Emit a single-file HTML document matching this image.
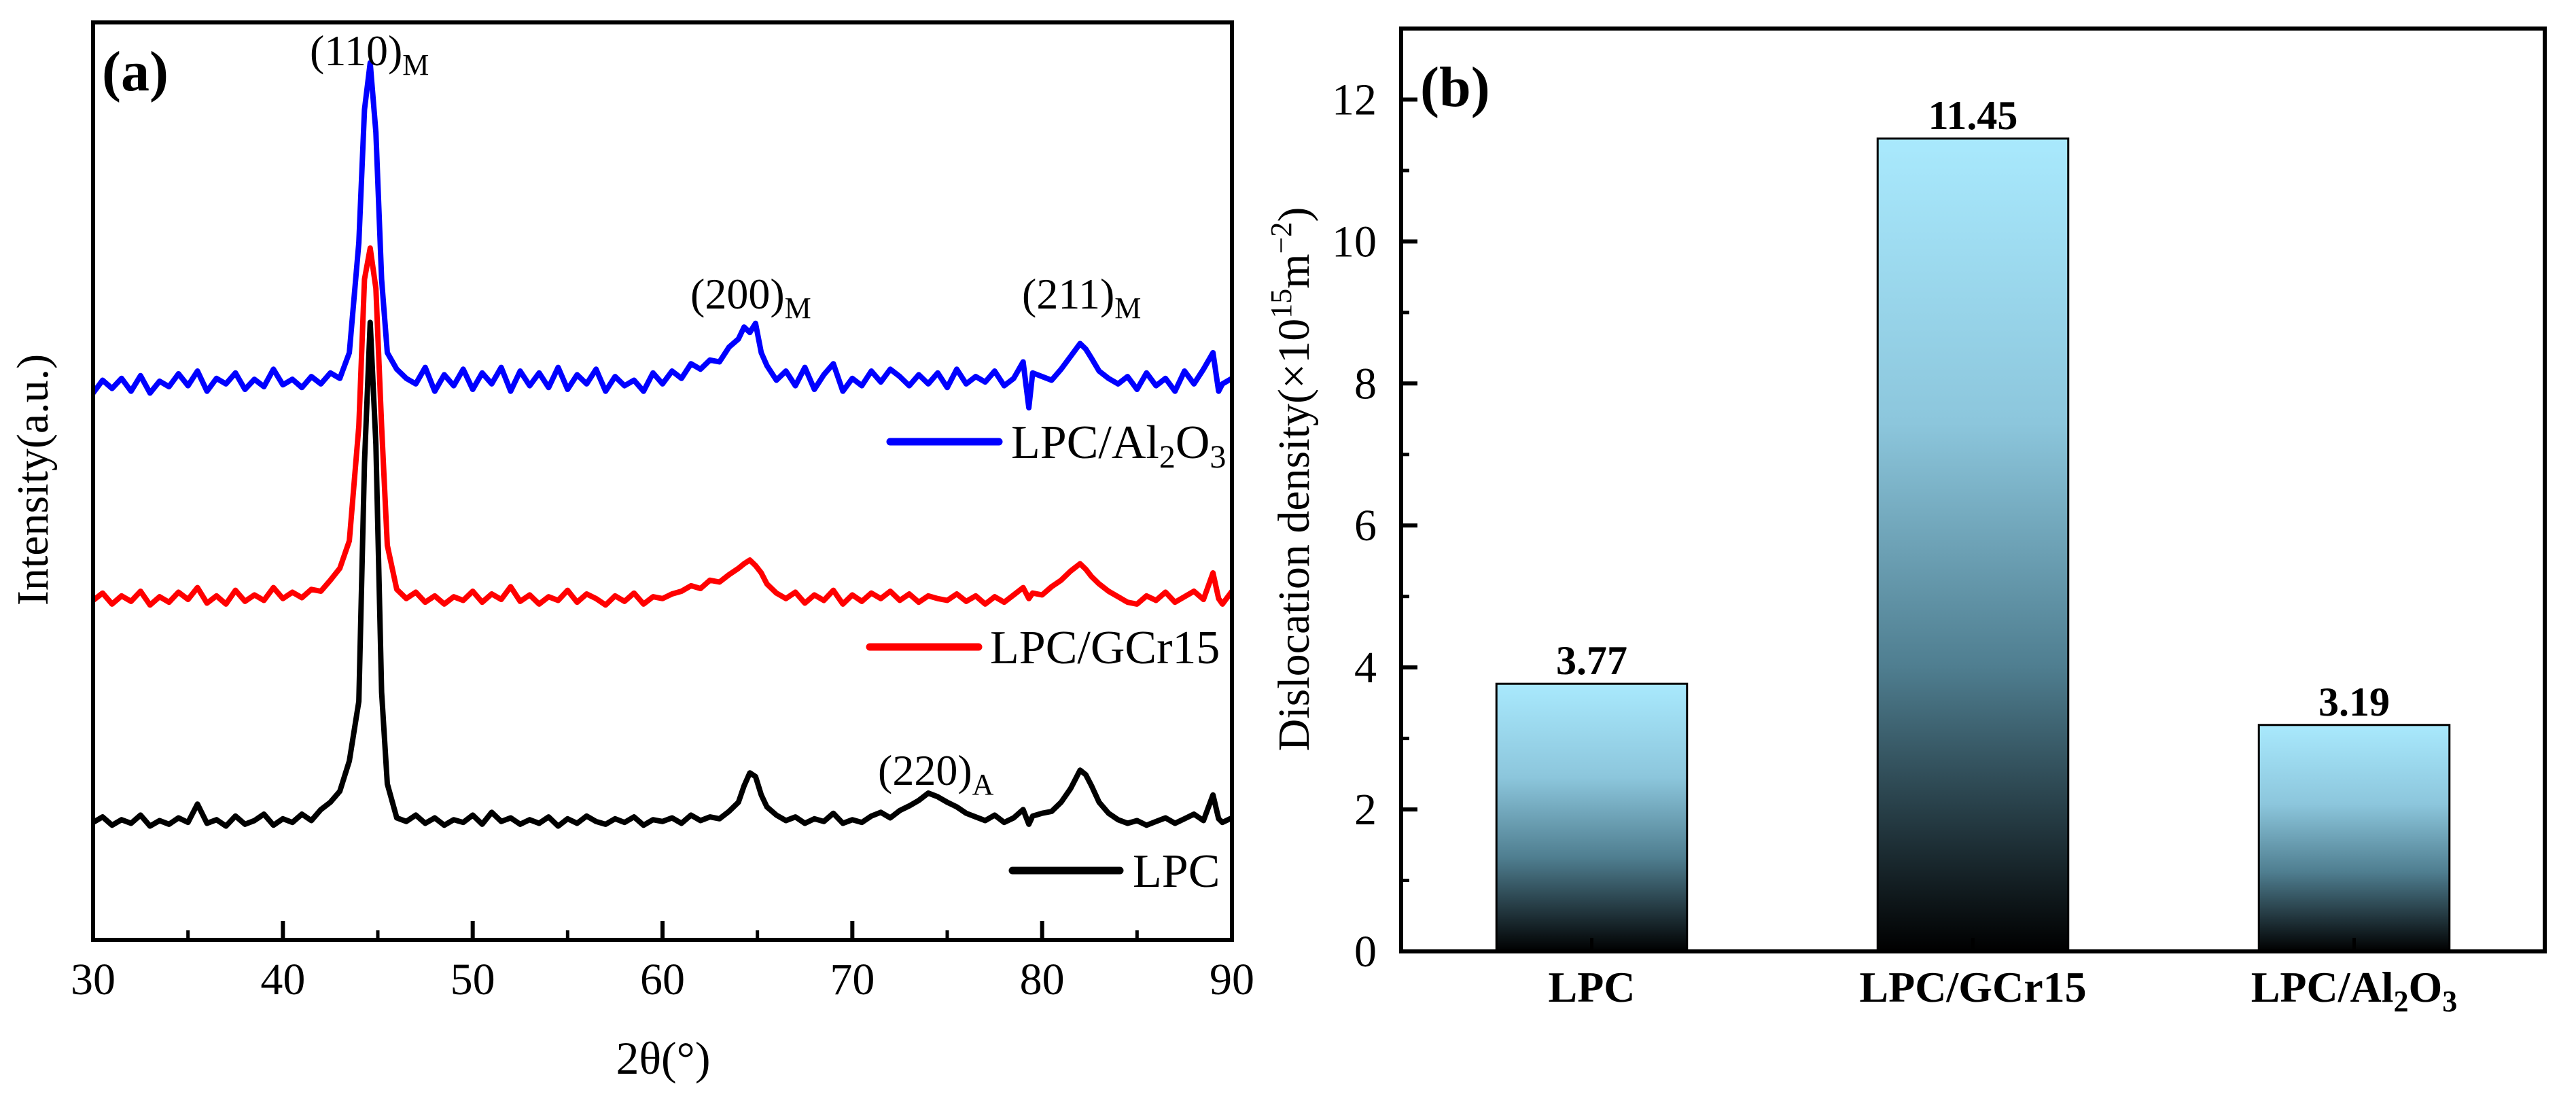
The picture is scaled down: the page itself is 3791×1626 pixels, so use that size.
<!DOCTYPE html>
<html><head><meta charset="utf-8"><style>
html,body{margin:0;padding:0;background:#fff;}
svg{display:block;font-family:"Liberation Serif",serif;}
</style></head><body>
<svg id="fig" width="3791" height="1626" viewBox="0 0 3791 1626" xmlns="http://www.w3.org/2000/svg">
<defs>
<linearGradient id="barGrad" x1="0" y1="0" x2="0" y2="1">
<stop offset="0" stop-color="#a9e9fd"/>
<stop offset="0.35" stop-color="#8cc6dc"/>
<stop offset="0.65" stop-color="#4f7e90"/>
<stop offset="1" stop-color="#000000"/>
</linearGradient>
</defs>
<g id="panelA"></g>
<g id="panelB"></g>
</svg>
<script>
// ---------- Panel (a) data ----------
const xrdTheta = [30,30.5,31,31.5,32,32.5,33,33.5,34,34.5,35,35.5,36,36.5,37,37.5,38,38.5,39,39.5,40,40.5,41,41.5,42,42.5,43,43.5,44,44.3,44.6,44.9,45.2,45.5,46,46.5,47,47.5,48,48.5,49,49.5,50,50.5,51,51.5,52,52.5,53,53.5,54,54.5,55,55.5,56,56.5,57,57.5,58,58.5,59,59.5,60,60.5,61,61.5,62,62.5,63,63.5,64,64.3,64.6,64.9,65.2,65.5,66,66.5,67,67.5,68,68.5,69,69.5,70,70.5,71,71.5,72,72.5,73,73.5,74,74.5,75,75.5,76,76.5,77,77.5,78,78.5,79,79.3,79.5,80,80.5,81,81.5,82,82.3,82.6,83,83.5,84,84.5,85,85.5,86,86.5,87,87.5,88,88.5,89,89.3,89.5,90];
const lpcIntensity = [128,134,125,131,127,136,124,130,126,133,128,148,127,131,124,135,126,130,137,125,132,128,137,130,142,150,162,195,260,520,673,540,270,170,133,129,136,127,133,125,131,128,136,126,139,129,133,126,131,127,134,124,132,127,135,129,126,132,128,134,125,131,129,133,127,136,130,134,132,140,150,168,182,178,158,145,136,130,134,127,132,129,138,127,131,128,135,139,133,141,146,152,160,156,150,145,138,134,130,136,128,133,142,126,135,138,140,150,165,185,180,168,150,138,131,127,130,125,129,133,127,132,137,130,158,132,128,133];
const gcr15Intensity = [370,378,366,375,369,380,365,374,368,379,371,384,367,375,366,381,369,376,370,384,372,379,373,382,380,392,405,435,560,720,754,710,560,430,382,372,379,368,375,366,374,370,380,368,377,371,385,369,376,366,374,370,381,368,377,372,365,375,369,378,366,374,372,377,380,386,383,392,390,398,405,410,414,408,400,388,378,372,379,367,376,370,381,366,376,369,378,372,380,370,377,368,375,372,370,377,369,375,366,374,368,376,384,372,378,376,385,392,402,410,404,396,388,380,374,368,366,375,370,379,368,374,380,371,400,372,366,380];
const al2o3Intensity = [596,610,601,612,598,615,596,609,603,617,604,620,598,612,606,618,600,611,603,622,605,611,602,614,606,618,612,640,760,905,956,880,720,640,622,612,606,624,598,616,604,622,600,618,606,624,598,620,604,618,602,624,600,616,606,622,598,614,604,610,598,618,606,620,612,628,622,632,630,646,655,668,662,672,640,626,610,620,604,624,600,616,628,598,612,604,620,608,622,614,604,616,606,618,602,622,606,614,608,620,604,612,630,580,618,614,610,622,636,650,644,634,620,612,606,614,600,618,604,612,598,620,606,622,640,598,606,612];
const xTicks = [30,40,50,60,70,80,90];
const xMinorTicks = [35,45,55,65,75,85];
// ---------- Panel (b) data ----------
const samples = ["LPC","LPC/GCr15","LPC/Al2O3"];
const dislocation = [3.77,11.45,3.19];
const dislocationLabels = ["3.77","11.45","3.19"];
const yTicksB = [0,2,4,6,8,10,12];
const yMinorB = [1,3,5,7,9,11];

const NS = "http://www.w3.org/2000/svg";
function mk(tag, attrs, parent){ const e=document.createElementNS(NS,tag); for(const k in attrs) e.setAttribute(k,attrs[k]); parent.appendChild(e); return e; }

const A = {l:137,r:1813,t:33,b:1383};
const ax = v => A.l + (v-30)/(90-30)*(A.r-A.l);
const ay = v => A.b - v/1000*(A.b-A.t);
const gA = document.getElementById('panelA');

function series(vals, color, name){
  let d = "";
  xrdTheta.forEach((t,i)=>{ d += (i?"L":"M")+ax(t).toFixed(1)+","+ay(vals[i]).toFixed(1); });
  const p = mk('path',{d:d,fill:'none',stroke:color,'stroke-width':8,'stroke-linejoin':'round'},gA);
  
  
}
series(lpcIntensity,'#000000','series-lpc');
series(gcr15Intensity,'#ff0000','series-lpc-gcr15');
series(al2o3Intensity,'#0000ff','series-lpc-al2o3');

const frameA = mk('rect',{x:A.l,y:A.t,width:A.r-A.l,height:A.b-A.t,fill:'none',stroke:'#000','stroke-width':6},gA);


xTicks.forEach(v=>{
  const t = mk('line',{x1:ax(v),x2:ax(v),y1:A.b,y2:A.b-28,stroke:'#000','stroke-width':6},gA);
  
  
  const lb = mk('text',{x:ax(v),y:1463,'font-size':66,'text-anchor':'middle'},gA);
  lb.textContent = v;
  
  
});
xMinorTicks.forEach(v=>{
  const t = mk('line',{x1:ax(v),x2:ax(v),y1:A.b,y2:A.b-14,stroke:'#000','stroke-width':5},gA);
  
  
});
</script>
<script>
(function(){
const gA = document.getElementById('panelA');
gA.insertAdjacentHTML('beforeend', `
<text x="976" y="1580" font-size="68" text-anchor="middle">2θ(°)</text>
<text transform="translate(70,706) rotate(-90)" font-size="66" text-anchor="middle">Intensity(a.u.)</text>
<text x="150" y="133" font-size="84" font-weight="bold">(a)</text>
<text x="456" y="96" font-size="64">(110)<tspan font-size="44" dy="14">M</tspan></text>
<text x="1016" y="454" font-size="64">(200)<tspan font-size="44" dy="14">M</tspan></text>
<text x="1504" y="454" font-size="64">(211)<tspan font-size="44" dy="14">M</tspan></text>
<text x="1292" y="1155" font-size="64">(220)<tspan font-size="44" dy="14">A</tspan></text>
<g>
<line x1="1310" y1="650" x2="1470" y2="650" stroke="#0000ff" stroke-width="11" stroke-linecap="round"/>
<text x="1488" y="674" font-size="70">LPC/Al<tspan font-size="48" dy="14">2</tspan><tspan dy="-14">O</tspan><tspan font-size="48" dy="14">3</tspan></text>
<line x1="1280" y1="952" x2="1440" y2="952" stroke="#ff0000" stroke-width="11" stroke-linecap="round"/>
<text x="1457" y="976" font-size="70">LPC/GCr15</text>
<line x1="1490" y1="1281" x2="1648" y2="1281" stroke="#000" stroke-width="11" stroke-linecap="round"/>
<text x="1667" y="1305" font-size="70">LPC</text>
</g>`);

const B = {l:2062,r:3745,t:42,b:1400};
const by = v => B.b - v/13*(B.b-B.t);
const band = (B.r-B.l)/samples.length;
const bx = i => B.l + band*(i+0.5);
const bw = band*0.5;
const gB = document.getElementById('panelB');
const NS = "http://www.w3.org/2000/svg";
function mk(tag, attrs, parent){ const e=document.createElementNS(NS,tag); for(const k in attrs) e.setAttribute(k,attrs[k]); parent.appendChild(e); return e; }

dislocation.forEach((v,i)=>{
  const r = mk('rect',{x:bx(i)-bw/2,y:by(v),width:bw,height:by(0)-by(v),fill:'url(#barGrad)',stroke:'#000','stroke-width':3},gB);
  
  
  const t = mk('text',{x:bx(i),y:by(v)-14,'font-size':60,'font-weight':'bold','text-anchor':'middle'},gB);
  t.textContent = dislocationLabels[i];
  
  
  const tk = mk('line',{x1:bx(i),x2:bx(i),y1:B.b,y2:B.b-20,stroke:'#000','stroke-width':5},gB);
  
  
  const lb = mk('text',{x:bx(i),y:1474,'font-size':64,'font-weight':'bold','text-anchor':'middle'},gB);
  if(samples[i]==="LPC/Al2O3"){
    lb.innerHTML = 'LPC/Al<tspan font-size="44" dy="14">2</tspan><tspan dy="-14">O</tspan><tspan font-size="44" dy="14">3</tspan>';
  } else lb.textContent = samples[i];
  
  
});
const frameB = mk('rect',{x:B.l,y:B.t,width:B.r-B.l,height:B.b-B.t,fill:'none',stroke:'#000','stroke-width':6},gB);


yTicksB.forEach(v=>{
  const t = mk('line',{x1:B.l,x2:B.l+24,y1:by(v),y2:by(v),stroke:'#000','stroke-width':6},gB);
  
  
  const lb = mk('text',{x:2026,y:by(v)+22,'font-size':66,'text-anchor':'end'},gB);
  lb.textContent = v;
  
  
});
yMinorB.forEach(v=>{
  const t = mk('line',{x1:B.l,x2:B.l+12,y1:by(v),y2:by(v),stroke:'#000','stroke-width':5},gB);
  
  
});
gB.insertAdjacentHTML('beforeend', `
<text x="2090" y="156" font-size="84" font-weight="bold">(b)</text>
<text transform="translate(1926,705) rotate(-90)" font-size="66" text-anchor="middle">Dislocation density(×10<tspan font-size="44" dy="-26">15</tspan><tspan dy="26">m</tspan><tspan font-size="44" dy="-26">−2</tspan><tspan dy="26">)</tspan></text>`);
})();
</script>
</body></html>
